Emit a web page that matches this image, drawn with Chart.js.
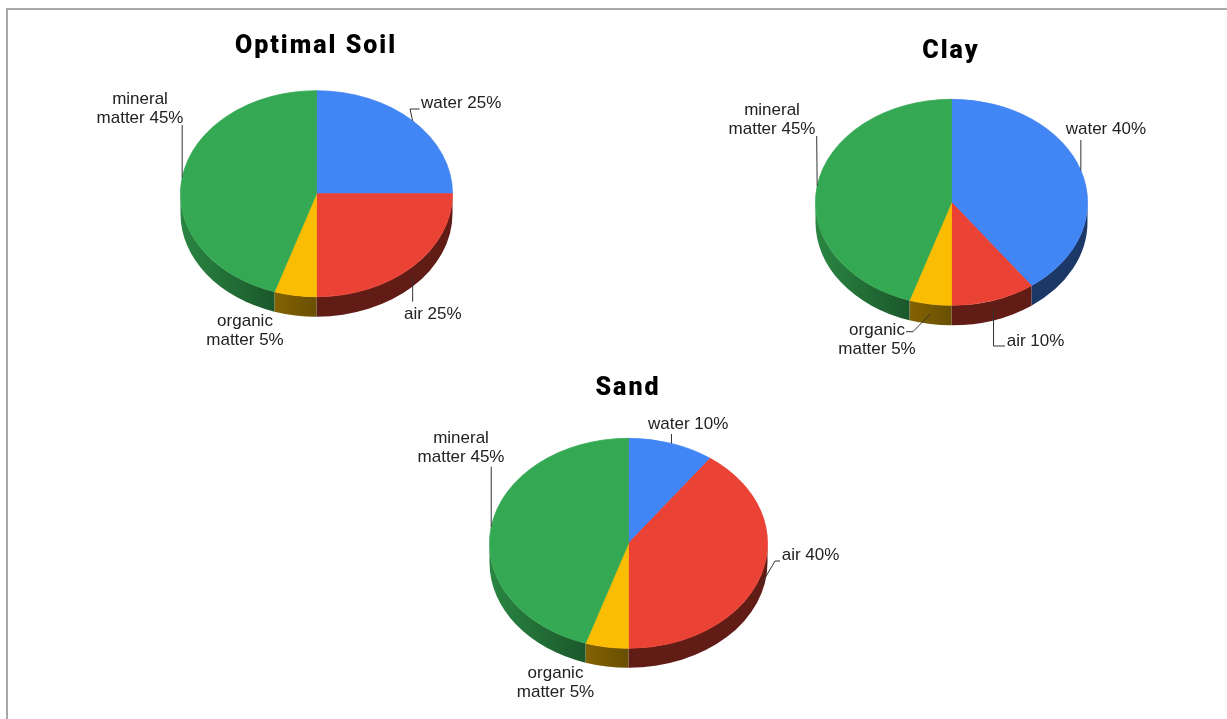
<!DOCTYPE html>
<html><head><meta charset="utf-8">
<script src="https://cdn.jsdelivr.net/npm/chart.js@4.4.1/dist/chart.umd.min.js"></script>
<style>
html,body{margin:0;padding:0;background:#fff;}
#wrap{position:relative;width:1227px;height:719px;overflow:hidden;background:#fff;}
.frame{position:absolute;left:6px;top:8px;width:1221px;height:711px;border-top:2px solid #a8a8a8;border-left:2px solid #a8a8a8;}
canvas{position:absolute;}
</style></head><body>
<div id="wrap"><div class="frame"></div>
<canvas id="optimal" width="480" height="360" style="left:76px;top:0px"></canvas>
<canvas id="clay" width="480" height="360" style="left:711px;top:0px"></canvas>
<canvas id="sand" width="480" height="359" style="left:388px;top:360px"></canvas>
</div>
<script>
// ---- data ----
const categories = ['water', 'air', 'organic matter', 'mineral matter'];
const chartTitles = ['Optimal Soil', 'Clay', 'Sand'];
const optimalValues = [25, 25, 5, 45];
const clayValues = [40, 10, 5, 45];
const sandValues = [10, 40, 5, 45];

// ---- styles ----
const colors = ['#4285f4', '#ea4335', '#fbbc04', '#34a853'];

// ---- layout (canvas coords / offsets from pie centre) ----
const layouts = {
  optimal: { cx: 240.5, cy: 193.7, rx: 136, ry: 103, depth: 20, titlePad: 32,
    labels: [
      { x: 104.5, y: -90.4, align: 'left', leader: [[93.5, -84.7], [103, -84.7]] },
      { x: 87.5, y: 120.3, align: 'left', leader: [[null, 108]] },
      { x: -71.5, y: 128, align: 'center', leader: [] },
      { x: -176.5, y: -94.7, align: 'center', leader: [[null, -68.7]] }
    ] },
  clay: { cx: 240.5, cy: 202.3, rx: 136, ry: 103, depth: 20, titlePad: 37,
    labels: [
      { x: 114.2, y: -73, align: 'left', leader: [[null, -62.3]] },
      { x: 55.2, y: 139.4, align: 'left', leader: [[null, 143.7], [53.5, 143.7]] },
      { x: -74.5, y: 127.7, align: 'center', leader: [[-38.5, 129.4], [-45.5, 129.4]] },
      { x: -179.5, y: -92.3, align: 'center', leader: [[-134.8, -66.3]] }
    ] },
  sand: { cx: 240.5, cy: 183.3, rx: 139, ry: 105, depth: 19.5, titlePad: 14,
    labels: [
      { x: 19.5, y: -119.3, align: 'left', leader: [[null, -109.3]] },
      { x: 153.2, y: 12.4, align: 'left', leader: [[146.5, 17.7], [151.5, 17.7]] },
      { x: -73, y: 130, align: 'center', leader: [] },
      { x: -167.5, y: -105, align: 'center', leader: [[null, -76.6]] }
    ] }
};

function shade(hex, f) {
  const n = parseInt(hex.slice(1), 16);
  const r = Math.round(((n >> 16) & 255) * f), g = Math.round(((n >> 8) & 255) * f), b = Math.round((n & 255) * f);
  return `rgb(${r},${g},${b})`;
}

const pie3d = {
  id: 'pie3d',
  beforeDraw(chart) {
    chart.ctx.letterSpacing = '2px';
  },
  beforeDatasetsDraw(chart) {
    chart.ctx.letterSpacing = '0px';
  },
  beforeDatasetDraw(chart, args) {
    const L = layouts[chart.canvas.id];
    const ctx = chart.ctx;
    const arcs = args.meta.data;
    ctx.save();
    arcs.forEach((arc, i) => {
      const b1 = Math.max(arc.startAngle, 0), b2 = Math.min(arc.endAngle, Math.PI);
      if (b2 <= b1) return;
      const col = colors[i % colors.length];
      const gr = ctx.createLinearGradient(L.cx - L.rx, 0, L.cx + L.rx, 0);
      gr.addColorStop(0, shade(col, 0.8));
      gr.addColorStop(0.35, shade(col, 0.52));
      gr.addColorStop(0.5, shade(col, 0.42));
      gr.addColorStop(1, shade(col, 0.42));
      ctx.beginPath();
      ctx.ellipse(L.cx, L.cy, L.rx, L.ry, 0, b1, b2, false);
      ctx.ellipse(L.cx, L.cy + L.depth, L.rx, L.ry, 0, b2, b1, true);
      ctx.closePath();
      ctx.fillStyle = gr;
      ctx.fill();
    });
    const p = arcs[0];
    ctx.translate(L.cx, L.cy);
    ctx.scale(L.rx / p.outerRadius, L.ry / p.outerRadius);
    ctx.translate(-p.x, -p.y);
  },
  afterDatasetDraw(chart) {
    chart.ctx.restore();
  },
  afterDraw(chart) {
    const L = layouts[chart.canvas.id];
    const ctx = chart.ctx;
    const meta = chart.getDatasetMeta(0);
    const values = chart.data.datasets[0].data;
    ctx.save();
    ctx.letterSpacing = '0px';
    meta.data.forEach((arc, i) => {
      const lab = L.labels[i];
      const mid = (arc.startAngle + arc.endAngle) / 2;
      let ax = L.cx + L.rx * Math.cos(mid);
      let ay = L.cy + L.ry * Math.sin(mid) + (Math.sin(mid) > 0 ? L.depth / 2 : 0);
      if (lab.leader.length) {
        ctx.beginPath();
        ctx.moveTo(ax, ay);
        let px = ax, py = ay;
        lab.leader.forEach(([lx, ly]) => {
          px = lx === null ? px : L.cx + lx;
          py = ly === null ? py : L.cy + ly;
          ctx.lineTo(px, py);
        });
        ctx.strokeStyle = '#333';
        ctx.lineWidth = 1;
        ctx.stroke();
      }
      const words = chart.data.labels[i].split(' ');
      words[words.length - 1] += ' ' + values[i] + '%';
      ctx.font = '17px "Liberation Sans", Arial, sans-serif';
      ctx.fillStyle = '#222';
      ctx.textAlign = lab.align;
      ctx.textBaseline = 'middle';
      words.forEach((w, k) => ctx.fillText(w, L.cx + lab.x, L.cy + lab.y + k * 19));
    });
    ctx.restore();
  }
};

function makeChart(id, title, values) {
  const L = layouts[id];
  return new Chart(document.getElementById(id), {
    type: 'pie',
    data: {
      labels: categories,
      datasets: [{ data: values, backgroundColor: colors, borderColor: colors, borderWidth: 1, clip: false }]
    },
    options: {
      responsive: false,
      animation: false,
      devicePixelRatio: 1,
      events: [],
      plugins: {
        legend: { display: false },
        tooltip: { enabled: false },
        title: { display: true, text: title, color: '#000',
          font: { family: 'Roboto', size: 25, weight: '900' },
          padding: { top: L.titlePad, bottom: 0 } }
      }
    },
    plugins: [pie3d]
  });
}

makeChart('optimal', chartTitles[0], optimalValues);
makeChart('clay', chartTitles[1], clayValues);
makeChart('sand', chartTitles[2], sandValues);
</script>
</body></html>
